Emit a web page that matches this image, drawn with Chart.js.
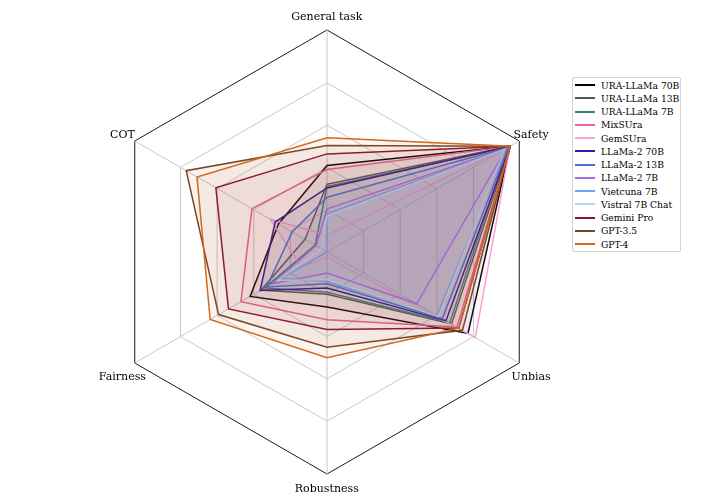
<!DOCTYPE html>
<html><head><meta charset="utf-8">
<script src="https://cdn.jsdelivr.net/npm/chart.js@4.4.1/dist/chart.umd.min.js"></script>
<style>
html,body{margin:0;padding:0;background:#fff;width:720px;height:504px;overflow:hidden;position:relative;font-family:"DejaVu Serif",serif;}
#c{position:absolute;left:0;top:0;}
.axlab{position:absolute;font-size:11px;color:#000;white-space:nowrap;transform:translate(-50%,-50%);line-height:1;}
#legend{position:absolute;left:572px;top:77px;width:109px;height:175px;border:1px solid #d4d4d4;border-radius:2px;background:#fff;box-sizing:border-box;}
.li{position:absolute;left:0;width:108px;height:13px;}
.li .sw{position:absolute;left:2px;top:5.5px;width:20px;height:2px;}
.li .tx{position:absolute;left:28px;top:0;font-size:9.2px;line-height:13px;white-space:nowrap;color:#000;}
</style>
</head><body>
<canvas id="c" width="464" height="464"></canvas>
<div id="legend"></div>
<script>
const axes = ['General task', 'Safety', 'Unbias', 'Robustness', 'Fairness', 'COT'];
const models = ['URA-LLaMa 70B','URA-LLaMa 13B','URA-LLaMa 7B','MixSUra','GemSUra','LLaMa-2 70B','LLaMa-2 13B','LLaMa-2 7B','Vietcuna 7B','Vistral 7B Chat','Gemini Pro','GPT-3.5','GPT-4'];
const colors = ['#000000','#555555','#2f8682','#e8649b','#f5a3d4','#33199e','#4a6fd6','#a06bf5','#6fa3f5','#b8d4f5','#8b1428','#7b4428','#d2691e'];
// values in axis order: General task, Safety, Unbias, Robustness, Fairness, COT
const uraLlama70b = [0.409, 1.00, 0.77, 0.26, 0.42, 0.265];
const uraLlama13b = [0.320, 1.00, 0.68, 0.20, 0.36, 0.12];
const uraLlama7b  = [0.310, 0.99, 0.67, 0.19, 0.34, 0.065];
const mixSUra     = [0.390, 1.00, 0.71, 0.32, 0.47, 0.41];
const gemSUra     = [0.080, 1.00, 0.81, 0.025, 0.14, 0.31];
const llama2_70b  = [0.303, 1.00, 0.65, 0.17, 0.365, 0.283];
const llama2_13b  = [0.259, 0.99, 0.63, 0.15, 0.33, 0.19];
const llama2_7b   = [0.204, 0.98, 0.49, 0.10, 0.30, 0.06];
const vietcuna7b  = [0.180, 0.98, 0.60, 0.14, 0.25, 0.00];
const vistral7b   = [0.170, 0.97, 0.61, 0.13, 0.27, 0.03];
const geminiPro   = [0.464, 1.00, 0.72, 0.366, 0.538, 0.607];
const gpt35       = [0.504, 1.00, 0.74, 0.45, 0.592, 0.769];
const gpt4        = [0.540, 1.00, 0.72, 0.50, 0.638, 0.71];
const seriesValues = [uraLlama70b, uraLlama13b, uraLlama7b, mixSUra, gemSUra, llama2_70b, llama2_13b, llama2_7b, vietcuna7b, vistral7b, geminiPro, gpt35, gpt4];
const gridTicks = [0, 0.2, 0.4, 0.6, 0.8, 1.05];

function hexA(h, a){const n=parseInt(h.slice(1),16);return `rgba(${n>>16&255},${n>>8&255},${n&255},${a})`;}

const N = models.length;
const datasets = models.map((m,i)=>({
  label: m,
  data: seriesValues[i],
  borderColor: colors[i],
  backgroundColor: hexA(colors[i], 0.065),
  borderWidth: 1.5,
  pointRadius: 0,
  fill: true,
  order: N - i
}));

const chart = new Chart(document.getElementById('c'), {
  type: 'radar',
  data: { labels: axes, datasets },
  options: {
    responsive: false,
    animation: false,
    devicePixelRatio: 1,
    layout: { padding: 10 },
    plugins: { legend: { display: false }, tooltip: { enabled: false } },
    elements: { line: { tension: 0 } },
    scales: {
      r: {
        min: 0, max: 1.05,
        afterBuildTicks: (s) => { s.ticks = gridTicks.map(v => ({ value: v })); },
        ticks: { display: false },
        pointLabels: { display: false },
        grid: {
          circular: false,
          color: (ctx) => (ctx.tick && ctx.tick.value > 1.0) ? '#1a1a1a' : '#c8c8c8',
          lineWidth: 1
        },
        angleLines: { color: '#c8c8c8', lineWidth: 1 }
      }
    }
  }
});

const sc = chart.scales.r;
const targetX = 326.8, targetY = 251.5;
const offX = targetX - sc.xCenter, offY = targetY - sc.yCenter;
const cv = document.getElementById('c');
cv.style.left = offX + 'px';
cv.style.top = offY + 'px';

const labelDy = [0, 0, 6, 0, 6, 0];
axes.forEach((a, i) => {
  const p = sc.getPointPosition(i, sc.drawingArea + 14);
  const d = document.createElement('div');
  d.className = 'axlab';
  d.textContent = a;
  d.style.left = (p.x + offX) + 'px';
  d.style.top = (p.y + offY + labelDy[i]) + 'px';
  document.body.appendChild(d);
});

const lg = document.getElementById('legend');
models.forEach((m, i) => {
  const row = document.createElement('div');
  row.className = 'li';
  row.style.top = (0.7 + i * 13.25) + 'px';
  const sw = document.createElement('span');
  sw.className = 'sw';
  sw.style.background = colors[i];
  const tx = document.createElement('span');
  tx.className = 'tx';
  tx.textContent = m;
  row.appendChild(sw);
  row.appendChild(tx);
  lg.appendChild(row);
});
</script>
</body></html>
